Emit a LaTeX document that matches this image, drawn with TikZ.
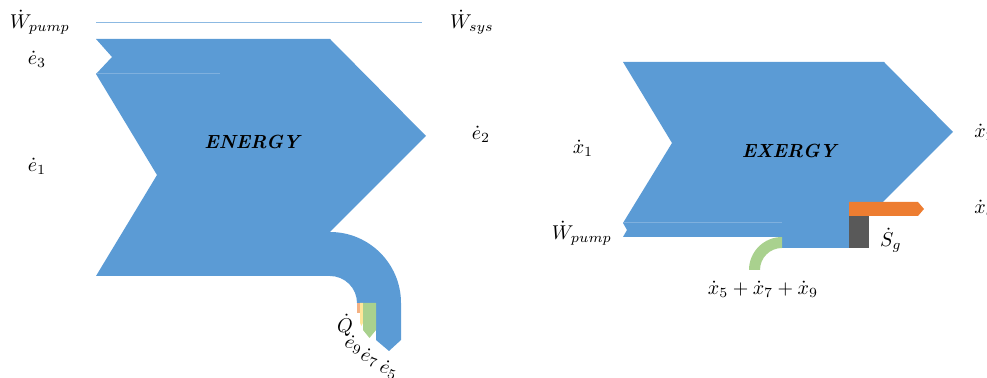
\documentclass[tikz,border=0pt]{standalone}
\usepackage{xcolor}
\usepackage{tikz}

\definecolor{flowblue}{HTML}{5B9BD5}
\definecolor{seamblue}{HTML}{7FB0DE}
\definecolor{lossorange}{HTML}{ED7D31}
\definecolor{heatorange}{HTML}{F4B183}
\definecolor{heatyellow}{HTML}{FFE699}
\definecolor{lossgreen}{HTML}{A9D18E}
\definecolor{entropygray}{HTML}{595959}

\begin{document}
\begin{tikzpicture}[
    x=0.5pt, y=0.5pt, yscale=-1,
    flow/.style={
        fill=flowblue,
        draw=none
    },
    seam/.style={
        draw=seamblue,
        line width=0.5pt
    },
    label/.style={
        inner sep=0pt,
        font=\normalsize
    },
    title/.style={
        inner sep=0pt,
        font=\fontsize{9.5}{11}\selectfont\bfseries\itshape
    }
]
\useasboundingbox (0,0) rectangle (987,378);

% Energy balance
\draw[seam, draw=flowblue!70] (96,23) -- (422,23);
\fill[flow] (96,39) -- (330,39) -- (426,136) -- (330,232)
    arc[start angle=-90, end angle=0, radius=71] -- (401,340) -- (389,351)
    -- (376,340) -- (376,303) -- (357,303)
    arc[start angle=0, end angle=-90, radius=27] -- (96,276)
    -- (157,175) -- (96,74) -- (112,57) -- cycle;
\draw[seam] (96,74) -- (220,74);
\fill[heatorange] (357,303) rectangle (360,313);
\fill[heatyellow] (360,303) -- (363,303) -- (363,323) -- (361.5,326) -- (360,323) -- cycle;
\fill[lossgreen] (363,303) -- (376,303) -- (376,330) -- (369.5,338) -- (363,330) -- cycle;

\node[title] (energy) at (252,142) {ENERGY};
\node[label] (wpumpE) at (40,22) {$\dot{W}_{pump}$};
\node[label] (wsys) at (472,22) {$\dot{W}_{sys}$};
\node[label] (e3) at (37,59) {$\dot{e}_3$};
\node[label] (e1) at (37,166) {$\dot{e}_1$};
\node[label] (e2) at (481,134) {$\dot{e}_2$};
\node[label] (qdot) at (345,325) {$\dot{Q}$};
\node[label, rotate=-20] (e9) at (354,345) {$\dot{e}_9$};
\node[label, rotate=-20] (e7) at (370,358) {$\dot{e}_7$};
\node[label, rotate=-20] (e5) at (389,370) {$\dot{e}_5$};

% Exergy balance
\fill[flow] (623,62) -- (884,62) -- (953,132) -- (883,202) -- (849,202)
    -- (849,248) -- (782,248) -- (782,237) -- (623,237) -- (627,230)
    -- (623,223) -- (672,143) -- cycle;
\draw[seam] (623,223) -- (782,223);
\fill[lossorange] (849,202) -- (918,202) -- (924,209) -- (918,216) -- (849,216) -- cycle;
\fill[entropygray] (849,216) rectangle (869,248);
\fill[lossgreen] (749,270) arc[start angle=180, end angle=270, radius=33]
    -- (782,248) arc[start angle=270, end angle=180, radius=22] -- cycle;

\node[title] (exergy) at (789,151) {EXERGY};
\node[label] (x1) at (583,148) {$\dot{x}_1$};
\node[label] (wpumpX) at (582,233) {$\dot{W}_{pump}$};
\node[label] (xloss) at (763,289) {$\dot{x}_5+\dot{x}_7+\dot{x}_9$};
\node[label] (sgen) at (891,240) {$\dot{S}_g$};
\node[label, anchor=west] (x2) at (974,132) {$\dot{x}_2$};
\node[label, anchor=west] (xd) at (974,208) {$\dot{x}_d$};

\end{tikzpicture}
\end{document}
